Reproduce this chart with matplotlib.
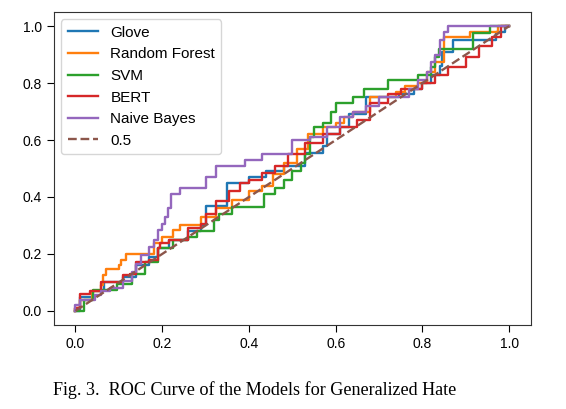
import matplotlib
matplotlib.use("Agg")
import matplotlib.pyplot as plt

# ROC points (fpr where the curve steps up, tpr after the step)
glove_fpr = [0, 0, 0.01, 0.04, 0.065, 0.11, 0.14, 0.17, 0.19, 0.215, 0.26, 0.29, 0.30, 0.35, 0.40,
             0.44, 0.48, 0.53, 0.57, 0.58, 0.61, 0.63, 0.67, 0.745, 0.78, 0.80, 0.82, 0.84, 0.845,
             0.87, 0.97, 0.99, 1.0]
glove_tpr = [0, 0.0, 0.05, 0.07, 0.10, 0.12, 0.16, 0.19, 0.22, 0.25, 0.28, 0.30, 0.37, 0.45, 0.47,
             0.49, 0.51, 0.555, 0.58, 0.62, 0.645, 0.69, 0.75, 0.76, 0.78, 0.80, 0.83, 0.86, 0.91,
             0.95, 0.98, 1.0, 1.0]

rf_fpr = [0, 0, 0.01, 0.037, 0.06, 0.064, 0.07, 0.10, 0.105, 0.117, 0.18, 0.20, 0.225, 0.24, 0.29,
          0.325, 0.36, 0.40, 0.43, 0.455, 0.48, 0.51, 0.535, 0.57, 0.60, 0.62, 0.64, 0.68, 0.74,
          0.76, 0.79, 0.81, 0.83, 0.85, 0.91, 0.975, 1.0]
rf_tpr = [0, 0.01, 0.04, 0.07, 0.09, 0.125, 0.146, 0.16, 0.18, 0.20, 0.24, 0.26, 0.285, 0.30, 0.33,
          0.36, 0.39, 0.42, 0.44, 0.48, 0.52, 0.57, 0.62, 0.645, 0.66, 0.68, 0.70, 0.75, 0.77,
          0.79, 0.80, 0.84, 0.875, 0.96, 0.98, 1.0, 1.0]

svm_fpr = [0, 0, 0.02, 0.04, 0.096, 0.13, 0.16, 0.19, 0.225, 0.26, 0.28, 0.32, 0.33, 0.36, 0.435,
           0.46, 0.48, 0.50, 0.52, 0.53, 0.54, 0.55, 0.57, 0.59, 0.60, 0.64, 0.665, 0.72, 0.79,
           0.82, 0.83, 0.837, 0.917, 0.956, 1.0]
svm_tpr = [0, 0, 0.04, 0.075, 0.093, 0.13, 0.17, 0.22, 0.25, 0.26, 0.28, 0.32, 0.34, 0.366, 0.41,
           0.43, 0.46, 0.49, 0.52, 0.55, 0.61, 0.645, 0.66, 0.70, 0.73, 0.75, 0.78, 0.81, 0.83,
           0.855, 0.89, 0.92, 0.975, 1.0, 1.0]

bert_fpr = [0, 0, 0.01, 0.034, 0.06, 0.11, 0.125, 0.14, 0.17, 0.19, 0.195, 0.215, 0.26, 0.29, 0.30,
            0.325, 0.355, 0.38, 0.40, 0.43, 0.46, 0.49, 0.53, 0.57, 0.61, 0.65, 0.68, 0.72, 0.75,
            0.80, 0.83, 0.86, 0.90, 0.93, 0.96, 0.98, 1.0]
bert_tpr = [0, 0.01, 0.06, 0.07, 0.10, 0.125, 0.13, 0.17, 0.18, 0.22, 0.24, 0.25, 0.29, 0.305, 0.34,
            0.385, 0.42, 0.45, 0.46, 0.485, 0.51, 0.55, 0.59, 0.62, 0.645, 0.67, 0.73, 0.76, 0.78,
            0.80, 0.83, 0.855, 0.89, 0.93, 0.96, 1.0, 1.0]

nb_fpr = [0, 0, 0.01, 0.045, 0.06, 0.08, 0.11, 0.13, 0.14, 0.15, 0.17, 0.18, 0.19, 0.20, 0.207,
          0.213, 0.22, 0.24, 0.30, 0.325, 0.39, 0.43, 0.50, 0.54, 0.58, 0.61, 0.64, 0.67, 0.70,
          0.77, 0.79, 0.81, 0.82, 0.83, 0.84, 0.85, 0.86, 1.0]
nb_tpr = [0, 0.02, 0.04, 0.057, 0.07, 0.08, 0.105, 0.135, 0.165, 0.195, 0.225, 0.25, 0.285, 0.305,
          0.33, 0.36, 0.41, 0.43, 0.47, 0.51, 0.53, 0.55, 0.60, 0.61, 0.645, 0.68, 0.70, 0.72,
          0.75, 0.78, 0.81, 0.84, 0.875, 0.90, 0.95, 0.98, 1.0, 1.0]

chance = [0, 1]

plt.rcParams['font.family'] = ['Liberation Sans', 'DejaVu Sans']

fig = plt.figure(figsize=(5.66, 4.09), dpi=100)
ax = fig.add_axes([0.095, 0.205, 0.843, 0.766])

lw = 1.7
ax.step(glove_fpr, glove_tpr, where='post', color='#1f77b4', lw=lw, label='Glove')
ax.step(rf_fpr, rf_tpr, where='post', color='#ff7f0e', lw=lw, label='Random Forest')
ax.step(svm_fpr, svm_tpr, where='post', color='#2ca02c', lw=lw, label='SVM')
ax.step(bert_fpr, bert_tpr, where='post', color='#d62728', lw=lw, label='BERT')
ax.step(nb_fpr, nb_tpr, where='post', color='#9467bd', lw=lw, label='Naive Bayes')
ax.plot(chance, chance, color='#8c564b', lw=lw, linestyle='--', label='0.5')

ax.set_xlim(-0.05, 1.05)
ax.set_ylim(-0.05, 1.05)
ax.set_xticks([0.0, 0.2, 0.4, 0.6, 0.8, 1.0])
ax.set_yticks([0.0, 0.2, 0.4, 0.6, 0.8, 1.0])
ax.tick_params(labelsize=10, length=5)
for s in ax.spines.values():
    s.set_color('#333333')
ax.legend(loc='upper left', fontsize=11)

fig.text(0.45, 0.046, 'Fig. 3.  ROC Curve of the Models for Generalized Hate',
         family='Liberation Serif', fontsize=13.1, ha='center', va='center')

plt.savefig('out.png', dpi=100)
